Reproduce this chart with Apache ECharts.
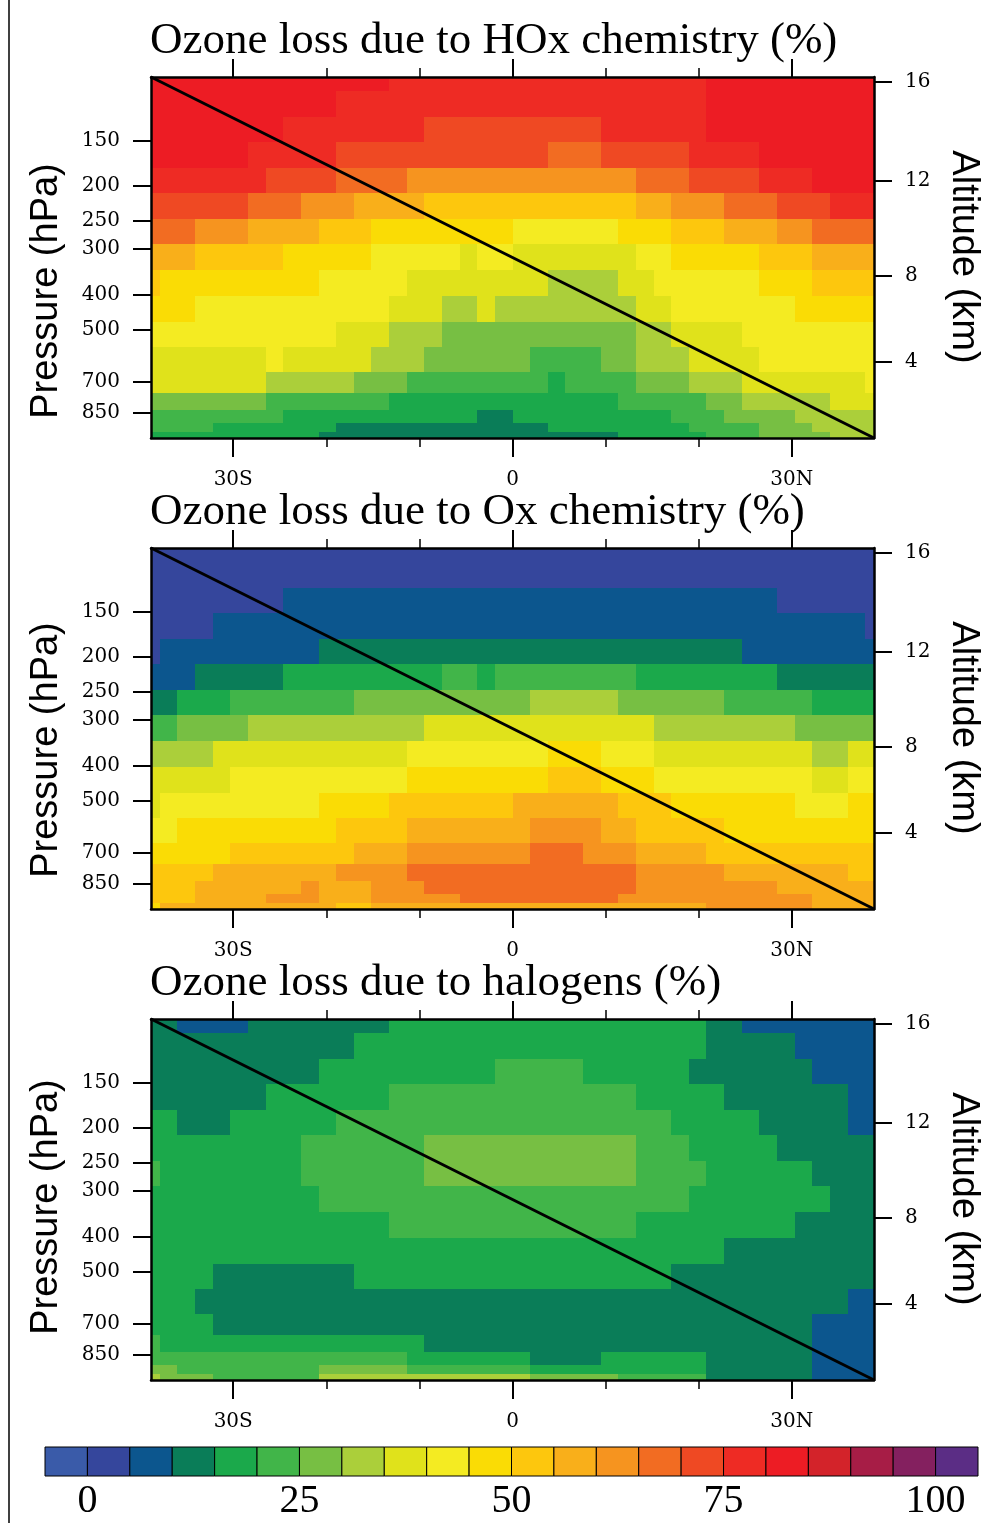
<!DOCTYPE html>
<html>
<head>
<meta charset="utf-8">
<title>Ozone loss</title>
<script src="https://cdn.jsdelivr.net/npm/echarts@6.0.0/dist/echarts.min.js"></script>
<style>
  html, body { margin: 0; padding: 0; background: #fff; }
  #chart { width: 992px; height: 1523px; }
</style>
</head>
<body>
<div id="chart"></div>
<script>
// latitude of the cell centres (deg, south negative)
const lats = [-38.83, -36.94, -35.04, -33.15, -31.25, -29.36, -27.46, -25.57, -23.68, -21.78, -19.89,
  -17.99, -16.10, -14.20, -12.31, -10.42, -8.52, -6.63, -4.73, -2.84, -0.95,
  0.95, 2.84, 4.73, 6.63, 8.52, 10.42, 12.31, 14.20, 16.10, 17.99,
  19.89, 21.78, 23.68, 25.57, 27.46, 29.36, 31.25, 33.15, 35.04, 36.94, 38.83];
// level edges in hPa, top to bottom
const pEdges = [100, 109, 129, 151, 179, 210, 247, 291, 342, 403, 476, 560, 656, 750, 836, 908, 962, 1000];

const pTicks = [150, 200, 250, 300, 400, 500, 700, 850];
const altTicks = [16, 12, 8, 4];
const latTicks = [-30, 0, 30];
const latTickText = ['30S', '0', '30N'];
const latMinor = [-20, -10, 10, 20];

const cbEdges = [-5, 0, 5, 10, 15, 20, 25, 30, 35, 40, 45, 50, 55, 60, 65, 70, 75, 80, 85, 90, 95, 100, 105];
const cbColors = ['#3A5BA9', '#35469C', '#0C568E', '#0A7D58', '#1BA94B', '#41B549', '#77BF43', '#ABCF3A',
  '#E0E21B', '#F4EB22', '#FADC05', '#FDC70D', '#F9AF1A', '#F6941F', '#F26C22', '#EF4923',
  '#EE2B24', '#ED1C24', '#D3232A', '#A71D46', '#84205F', '#5B2D85'];
const cbLabels = [0, 25, 50, 75, 100];

const titles = ['Ozone loss due to HOx chemistry (%)', 'Ozone loss due to Ox chemistry (%)', 'Ozone loss due to halogens (%)'];

// % ozone loss, one row per level (top to bottom), one value per latitude
const hoxLoss = [
  [82,82,82,82,82,82,82,82,82,82,82,82,82,82, 77,77,77,77,77,77,77,77,77,77,77,77,77,77,77,77,77,77, 82,82,82,82,82,82,82,82,82,82],
  [82,82,82,82,82,82,82,82,82,82,82, 77,77,77,77,77,77,77,77,77,77,77,77,77,77,77,77,77,77,77,77,77, 82,82,82,82,82,82,82,82,82,82],
  [82,82,82,82,82,82,82,82, 77,77,77,77,77,77,77,77, 72,72,72,72,72,72,72,72,72,72, 77,77,77,77,77,77, 82,82,82,82,82,82,82,82,82,82],
  [82,82,82,82,82,82, 77,77,77,77,77, 72,72,72,72,72,72,72,72,72,72,72,72, 67,67,67, 72,72,72,72,72, 77,77,77,77, 82,82,82,82,82,82,82],
  [77,77,77,77,77,77,77, 72,72,72,72, 67,67,67,67, 62,62,62,62,62,62,62,62,62,62,62,62,62, 67,67,67, 72,72,72,72, 77,77,77, 82,82,82,82],
  [72,72,72,72,72,72, 67,67,67, 62,62,62, 57,57,57,57, 52,52,52,52,52,52,52,52,52,52,52,52, 57,57, 62,62,62, 67,67,67, 72,72,72, 77,77,77],
  [67,67,67, 62,62,62, 57,57,57,57, 52,52,52, 47,47,47,47,47,47,47,47, 42,42,42,42,42,42, 47,47,47, 52,52,52, 57,57,57, 62,62, 67,67,67,67],
  [57,57,57, 52,52,52,52,52, 47,47,47,47,47, 42,42,42,42,42, 37, 42,42, 37,37,37,37,37,37,37, 42,42, 47,47,47,47,47, 52,52,52, 57,57,57,57],
  [52, 47,47,47,47,47,47,47,47,47, 42,42,42,42,42, 37,37,37,37,37,37,37,37, 32,32,32,32, 37,37, 42,42,42,42,42,42, 47,47,47, 52,52,52,52],
  [47,47,47, 42,42,42,42,42,42,42,42,42,42,42, 37,37,37, 32,32, 37, 32,32,32,32,32,32,32,32, 37,37, 42,42,42,42,42,42,42, 47,47,47,47,47],
  [42,42,42,42,42,42,42,42,42,42,42, 37,37,37, 32,32,32, 27,27,27,27,27,27,27,27,27,27,27, 32,32, 37,37,37,37, 42,42,42,42,42,42,42,42],
  [37,37,37,37,37,37,37, 42, 37,37,37,37,37, 32,32,32, 27,27,27,27,27,27, 22,22,22,22, 27,27, 32,32,32, 37,37,37,37, 42,42,42,42,42,42,42],
  [37,37,37,37,37,37,37, 32,32,32,32,32, 27,27,27, 22,22,22,22,22,22,22,22, 17, 22,22,22,22, 27,27,27, 32,32,32, 37,37,37,37,37,37,37, 42],
  [27,27,27,27,27,27,27, 22,22,22,22,22,22,22, 17,17,17,17,17,17,17,17,17,17,17,17,17, 22,22,22,22,22, 27,27, 32,32,32,32,32, 37,37,37],
  [22,22,22,22,22,22,22,22, 17,17,17,17,17,17,17,17,17,17,17, 12,12, 17,17,17,17,17,17,17,17,17, 22,22,22, 27,27,27,27, 32,32,32,32,32],
  [22,22,22,22, 17,17,17,17,17,17,17, 12,12,12,12,12,12,12,12,12,12,12,12, 17,17,17,17,17,17,17,17, 22,22,22,22, 27,27,27, 32,32,32,32],
  [17,17,17,17,17,17,17,17,17,17, 12,12,12,12,12,12,12,12,12,12,12,12,12,12,12,12,12, 17,17,17,17,17, 22,22,22, 27,27,27,27, 32,32,32]
];

const oxLoss = [
  [2,2,2,2,2,2,2,2,2,2, 2,2,2,2,2,2,2,2,2,2, 2,2,2,2,2,2,2,2,2,2, 2,2,2,2,2,2,2,2,2,2, 2,2],
  [2,2,2,2,2,2,2,2,2,2, 2,2,2,2,2,2,2,2,2,2, 2,2,2,2,2,2,2,2,2,2, 2,2,2,2,2,2,2,2,2,2, 2,2],
  [2,2,2,2,2,2,2,2, 7,7,7,7,7,7,7,7,7,7, 7,7,7,7,7,7,7,7,7,7, 7,7,7,7,7,7,7,7, 2,2,2,2,2,2],
  [2,2,2,2, 7,7,7,7,7,7,7,7,7,7, 7,7,7,7,7,7,7,7,7,7, 7,7,7,7,7,7,7,7,7,7, 7,7,7,7,7,7,7, 2],
  [2, 7,7,7,7,7,7,7,7,7, 12,12,12,12,12,12,12,12,12,12,12,12,12,12,12,12,12,12,12,12,12,12,12,12, 7,7,7,7,7,7,7,7],
  [7,7,7, 12,12,12,12,12, 17,17,17,17,17,17,17,17,17, 22,22, 17, 22,22,22,22,22,22,22,22, 17,17,17,17,17,17,17,17, 12,12,12,12,12,12],
  [12,12, 17,17,17, 22,22,22,22,22,22,22, 27,27,27,27,27,27,27,27,27,27, 32,32,32,32,32, 27,27,27,27,27,27, 22,22,22,22,22, 17,17,17,17],
  [22,22, 27,27,27,27, 32,32,32,32,32,32,32,32,32,32, 37,37,37,37,37,37,37,37,37,37,37,37,37, 32,32,32,32,32,32,32,32, 27,27,27,27,27],
  [32,32,32,32, 37,37,37,37,37,37,37,37,37,37,37, 42,42,42,42,42,42,42,42, 47,47,47, 42,42,42, 37,37,37,37,37,37,37,37,37, 32,32, 37,37],
  [37,37,37,37,37, 42,42,42,42,42,42,42,42,42,42, 47,47,47,47,47,47,47,47, 52,52,52, 47,47,47, 42,42,42,42,42,42,42,42,42, 37,37, 42,42],
  [37, 42,42,42,42,42,42,42,42,42, 47,47,47,47, 52,52,52,52,52,52,52, 57,57,57,57,57,57, 52,52,52, 47,47,47,47,47,47,47, 42,42,42, 47,47],
  [42,42, 47,47,47,47,47,47,47,47,47, 52,52,52,52, 57,57,57,57,57,57,57, 62,62,62,62, 57,57, 52,52,52,52,52, 47,47,47,47,47,47,47,47,47],
  [47,47,47,47,47, 52,52,52,52,52,52,52, 57,57,57, 62,62,62,62,62,62,62, 67,67,67, 62,62,62, 57,57,57,57, 52,52,52,52,52,52,52,52,52,52],
  [52,52,52,52, 57,57,57,57,57,57,57, 62,62,62,62, 67,67,67,67,67,67,67,67,67,67,67,67,67, 62,62,62,62,62, 57,57,57,57,57,57,57, 52,52],
  [52,52,52, 57,57,57,57,57,57, 62, 57,57,57, 62,62,62, 67,67,67,67,67,67,67,67,67,67,67,67, 62,62,62,62,62,62,62,62, 57,57,57,57,57,57],
  [52,52,52, 57,57,57,57, 62,62,62, 57,57,57, 62,62,62,62,62, 67,67,67,67,67,67,67,67,67, 62,62,62,62,62,62,62,62,62,62,62, 57,57,57,57],
  [47, 57,57,57,57,57,57,57,57,57,57, 52,52, 57,57,57,57,57,57,57,57,57,57,57,57,57,57,57,57,57,57,57, 62,62,62,62,62,62, 57,57,57,57]
];

const halLoss = [
  [12,12, 7,7,7,7, 12,12,12,12,12,12,12,12, 17,17,17,17,17,17,17,17,17,17,17,17,17,17,17,17,17,17, 12,12, 7,7,7,7,7,7,7,7],
  [12,12,12,12,12,12,12,12,12,12,12,12, 17,17,17,17,17,17,17,17,17,17,17,17,17,17,17,17,17,17,17,17, 12,12,12,12,12, 7,7,7,7,7],
  [12,12,12,12,12,12,12,12,12,12, 17,17,17,17,17,17,17,17,17,17, 22,22,22,22,22, 17,17,17,17,17,17, 12,12,12,12,12,12,12, 7,7,7,7],
  [12,12,12,12,12,12,12, 17,17,17,17,17,17,17, 22,22,22,22,22,22,22,22,22,22,22,22,22,22, 17,17,17,17,17, 12,12,12,12,12,12,12, 7,7],
  [17,17, 12,12,12, 17,17,17,17,17,17, 22,22,22,22,22,22,22,22,22,22,22,22,22,22,22,22,22,22,22, 17,17,17,17,17, 12,12,12,12,12, 7,7],
  [17,17,17,17,17,17,17,17,17, 22,22,22,22,22,22,22, 27,27,27,27,27,27,27,27,27,27,27,27, 22,22,22, 17,17,17,17,17, 12,12,12,12,12,12],
  [22, 17,17,17,17,17,17,17,17, 22,22,22,22,22,22,22, 27,27,27,27,27,27,27,27,27,27,27,27, 22,22,22,22, 17,17,17,17,17,17, 12,12,12,12],
  [17,17,17,17,17,17,17,17,17,17, 22,22,22,22,22,22,22,22,22,22,22,22,22,22,22,22,22,22,22,22,22, 17,17,17,17,17,17,17,17, 12,12,12],
  [17,17,17,17,17,17,17,17,17,17,17,17,17,17, 22,22,22,22,22,22,22,22,22,22,22,22,22,22, 17,17,17,17,17,17,17,17,17, 12,12,12,12,12],
  [17,17,17,17,17,17,17,17,17,17, 17,17,17,17,17,17,17,17,17,17, 17,17,17,17,17,17,17,17,17,17, 17,17,17, 12,12,12,12,12,12,12,12,12],
  [17,17,17,17, 12,12,12,12,12,12,12,12, 17,17,17,17,17,17,17,17,17,17,17,17,17,17,17,17,17,17, 12,12,12,12,12,12,12,12,12,12,12,12],
  [17,17,17, 12,12,12,12,12,12,12,12,12,12, 12,12,12,12,12,12,12,12,12,12, 12,12,12,12,12,12,12,12,12,12, 12,12,12,12,12,12,12, 7,7],
  [17,17,17,17, 12,12,12,12,12,12,12,12,12,12, 12,12,12,12,12,12,12,12,12,12, 12,12,12,12,12,12,12,12,12,12, 12,12,12,12, 7,7,7,7],
  [22, 17,17,17,17,17,17,17,17,17,17,17,17,17,17,17, 12,12,12,12,12,12,12,12,12,12,12,12,12,12,12,12,12,12,12,12,12,12, 7,7,7,7],
  [22,22,22,22,22,22,22,22,22,22,22,22,22,22,22, 17,17,17,17,17,17,17, 12,12,12,12, 17,17,17,17,17,17, 12,12,12,12,12,12, 7,7,7,7],
  [27,27, 22,22,22,22,22,22,22,22, 27,27,27,27,27, 22,22,22,22,22,22,22, 17,17,17,17,17,17,17,17,17,17, 12,12,12,12,12,12, 7,7,7,7],
  [32, 27,27,27, 22,22,22,22,22,22, 32,32,32,32,32,32,32,32,32,32,32,32, 27,27,27,27,27, 22,22,22,22,22, 12,12,12,12,12,12, 7,7,7,7]
];

const panels = [hoxLoss, oxLoss, halLoss];
const panelTops = [77, 548, 1019];
const nameOffsets = [214, 202, 188];   // where "Pressure (hPa)" sits below each panel top
const PLOT_LEFT = 151, PLOT_W = 723, PLOT_H = 361;
const XMIN = lats[0], XMAX = lats[lats.length - 1];

// pressure (hPa) at altitude h (km), US standard atmosphere
const stdPressure = h => h <= 11
  ? 1013.25 * Math.pow(1 - 0.0225577 * h, 5.25588)
  : 226.32 * Math.exp(-(h - 11) / 6.3416);
const altP = altTicks.map(stdPressure);

const thresholds = cbEdges.slice(1, -1);
const colorOf = v => {
  let i = 0;
  while (i < thresholds.length && v >= thresholds[i]) i++;
  return cbColors[i];
};

const latLabel = v => {
  const i = latTicks.indexOf(Math.round(v));
  return i < 0 ? '' : latTickText[i];
};
const altLabel = v => {
  let best = 0;
  altP.forEach((p, i) => { if (Math.abs(p - v) < Math.abs(altP[best] - v)) best = i; });
  return String(altTicks[best]);
};

const cellData = rows => {
  const out = [];
  rows.forEach((row, r) => {
    row.forEach((v, c) => {
      const x0 = c === 0 ? XMIN : (lats[c - 1] + lats[c]) / 2;
      const x1 = c === lats.length - 1 ? XMAX : (lats[c] + lats[c + 1]) / 2;
      out.push([x0, x1, pEdges[r], pEdges[r + 1], v]);
    });
  });
  return out;
};

// snap cells to whole pixels so neighbours meet without seams
const renderCell = (params, api) => {
  const a = api.coord([api.value(0), api.value(2)]);
  const b = api.coord([api.value(1), api.value(3)]);
  const x = Math.round(a[0]), y = Math.round(a[1]);
  return {
    type: 'rect',
    shape: { x: x, y: y, width: Math.round(b[0]) - x, height: Math.round(b[1]) - y },
    style: { fill: colorOf(api.value(4)) }
  };
};

const black = { color: '#000', width: 2.5 };
const tickFont = { color: '#000', fontFamily: 'DejaVu Serif', fontSize: 20 };

const grid = [], xAxis = [], yAxis = [], series = [], graphic = [];

panels.forEach((rows, k) => {
  const top = panelTops[k];
  const g = grid.length;
  grid.push({ left: PLOT_LEFT, top: top, width: PLOT_W, height: PLOT_H, outerBoundsMode: 'none' });
  grid.push({ left: PLOT_LEFT, top: top, width: PLOT_W, height: PLOT_H, outerBoundsMode: 'none' });

  const xi = xAxis.length;
  xAxis.push({
    gridIndex: g, type: 'value', position: 'bottom', min: XMIN, max: XMAX, z: 10,
    axisLine: { show: true, onZero: false, lineStyle: black },
    axisTick: { show: true, customValues: latTicks, length: 19, lineStyle: { color: '#000', width: 2 } },
    axisLabel: Object.assign({ show: true, customValues: latTicks, margin: 32, formatter: latLabel }, tickFont),
    splitLine: { show: false }
  });
  xAxis.push({
    gridIndex: g, type: 'value', position: 'top', min: XMIN, max: XMAX, z: 10,
    axisLine: { show: true, onZero: false, lineStyle: black },
    axisTick: { show: true, customValues: latTicks, length: 18, lineStyle: { color: '#000', width: 2 } },
    axisLabel: { show: false }, splitLine: { show: false }
  });
  // minor ticks live on an overlay grid
  xAxis.push({
    gridIndex: g + 1, type: 'value', position: 'bottom', min: XMIN, max: XMAX, z: 10,
    axisLine: { show: false, onZero: false },
    axisTick: { show: true, customValues: latMinor, length: 9, lineStyle: { color: '#000', width: 1.5 } },
    axisLabel: { show: false }, splitLine: { show: false }
  });
  xAxis.push({
    gridIndex: g + 1, type: 'value', position: 'top', min: XMIN, max: XMAX, z: 10,
    axisLine: { show: false, onZero: false },
    axisTick: { show: true, customValues: latMinor, length: 9, lineStyle: { color: '#000', width: 1.5 } },
    axisLabel: { show: false }, splitLine: { show: false }
  });

  const yi = yAxis.length;
  yAxis.push({
    gridIndex: g, type: 'log', logBase: 10, min: 100, max: 1000, inverse: true, position: 'left', z: 10,
    axisLine: { show: true, onZero: false, lineStyle: black },
    axisTick: { show: true, customValues: pTicks, length: 18, lineStyle: { color: '#000', width: 2 } },
    axisLabel: Object.assign({ show: true, customValues: pTicks, margin: 31 }, tickFont),
    splitLine: { show: false }, minorTick: { show: false }
  });
  yAxis.push({
    gridIndex: g, type: 'log', logBase: 10, min: 100, max: 1000, inverse: true, position: 'right', z: 10,
    axisLine: { show: true, onZero: false, lineStyle: black },
    axisTick: { show: true, customValues: altP, length: 18, lineStyle: { color: '#000', width: 2 } },
    axisLabel: Object.assign({ show: true, customValues: altP, margin: 31, formatter: altLabel }, tickFont),
    splitLine: { show: false }, minorTick: { show: false }
  });
  yAxis.push({ gridIndex: g + 1, type: 'log', min: 100, max: 1000, inverse: true, show: false });

  series.push({
    type: 'custom', xAxisIndex: xi, yAxisIndex: yi, silent: true,
    encode: { x: [0, 1], y: [2, 3] },
    renderItem: renderCell,
    data: cellData(rows), z: 2
  });
  series.push({
    type: 'line', xAxisIndex: xi, yAxisIndex: yi, silent: true, symbol: 'none', z: 5,
    lineStyle: { color: '#000', width: 3 },
    data: [[XMIN, 100], [XMAX, 1000]]
  });

  graphic.push({
    type: 'text', x: 150, y: top - 36,
    style: { text: titles[k], font: '45px "Liberation Serif"', fill: '#000',
      align: 'left', textAlign: 'left', verticalAlign: 'middle', textVerticalAlign: 'middle' }
  });
  graphic.push({
    type: 'text', x: 47, y: top + nameOffsets[k], rotation: Math.PI / 2,
    style: { text: 'Pressure (hPa)', font: '38px "Liberation Sans"', fill: '#000',
      align: 'center', textAlign: 'center', verticalAlign: 'middle', textVerticalAlign: 'middle' }
  });
  graphic.push({
    type: 'text', x: 963, y: top + 180, rotation: -Math.PI / 2,
    style: { text: 'Altitude (km)', font: '38px "Liberation Sans"', fill: '#000',
      align: 'center', textAlign: 'center', verticalAlign: 'middle', textVerticalAlign: 'middle' }
  });
});

// colour bar
const cbGrid = grid.length;
grid.push({ left: 45, top: 1447, width: 933, height: 29, outerBoundsMode: 'none' });
const cbX = xAxis.length, cbY = yAxis.length;
xAxis.push({
  gridIndex: cbGrid, type: 'value', min: -5, max: 105,
  axisLine: { show: false, onZero: false }, axisTick: { show: false }, splitLine: { show: false },
  axisLabel: { customValues: cbLabels, margin: 5, color: '#000', fontFamily: 'Liberation Serif', fontSize: 40 }
});
yAxis.push({ gridIndex: cbGrid, type: 'value', min: 0, max: 1, show: false });
series.push({
  type: 'custom', xAxisIndex: cbX, yAxisIndex: cbY, silent: true,
  encode: { x: [0, 1], y: 2 },
  data: cbColors.map((c, i) => [cbEdges[i], cbEdges[i + 1], i]),
  renderItem: (params, api) => {
    const a = api.coord([api.value(0), 1]);
    const b = api.coord([api.value(1), 0]);
    return {
      type: 'rect',
      shape: { x: a[0], y: a[1], width: b[0] - a[0], height: b[1] - a[1] },
      style: { fill: cbColors[api.value(2)], stroke: '#000', lineWidth: 1 }
    };
  }
});

// thin frame line on the left edge of the figure
graphic.push({ type: 'line', shape: { x1: 9, y1: 0, x2: 9, y2: 1523 }, style: { stroke: '#000', lineWidth: 1.5 } });

const myChart = echarts.init(document.getElementById('chart'), null, { renderer: 'canvas' });
myChart.setOption({
  backgroundColor: '#fff',
  animation: false,
  grid, xAxis, yAxis, series, graphic
});
</script>
</body>
</html>
